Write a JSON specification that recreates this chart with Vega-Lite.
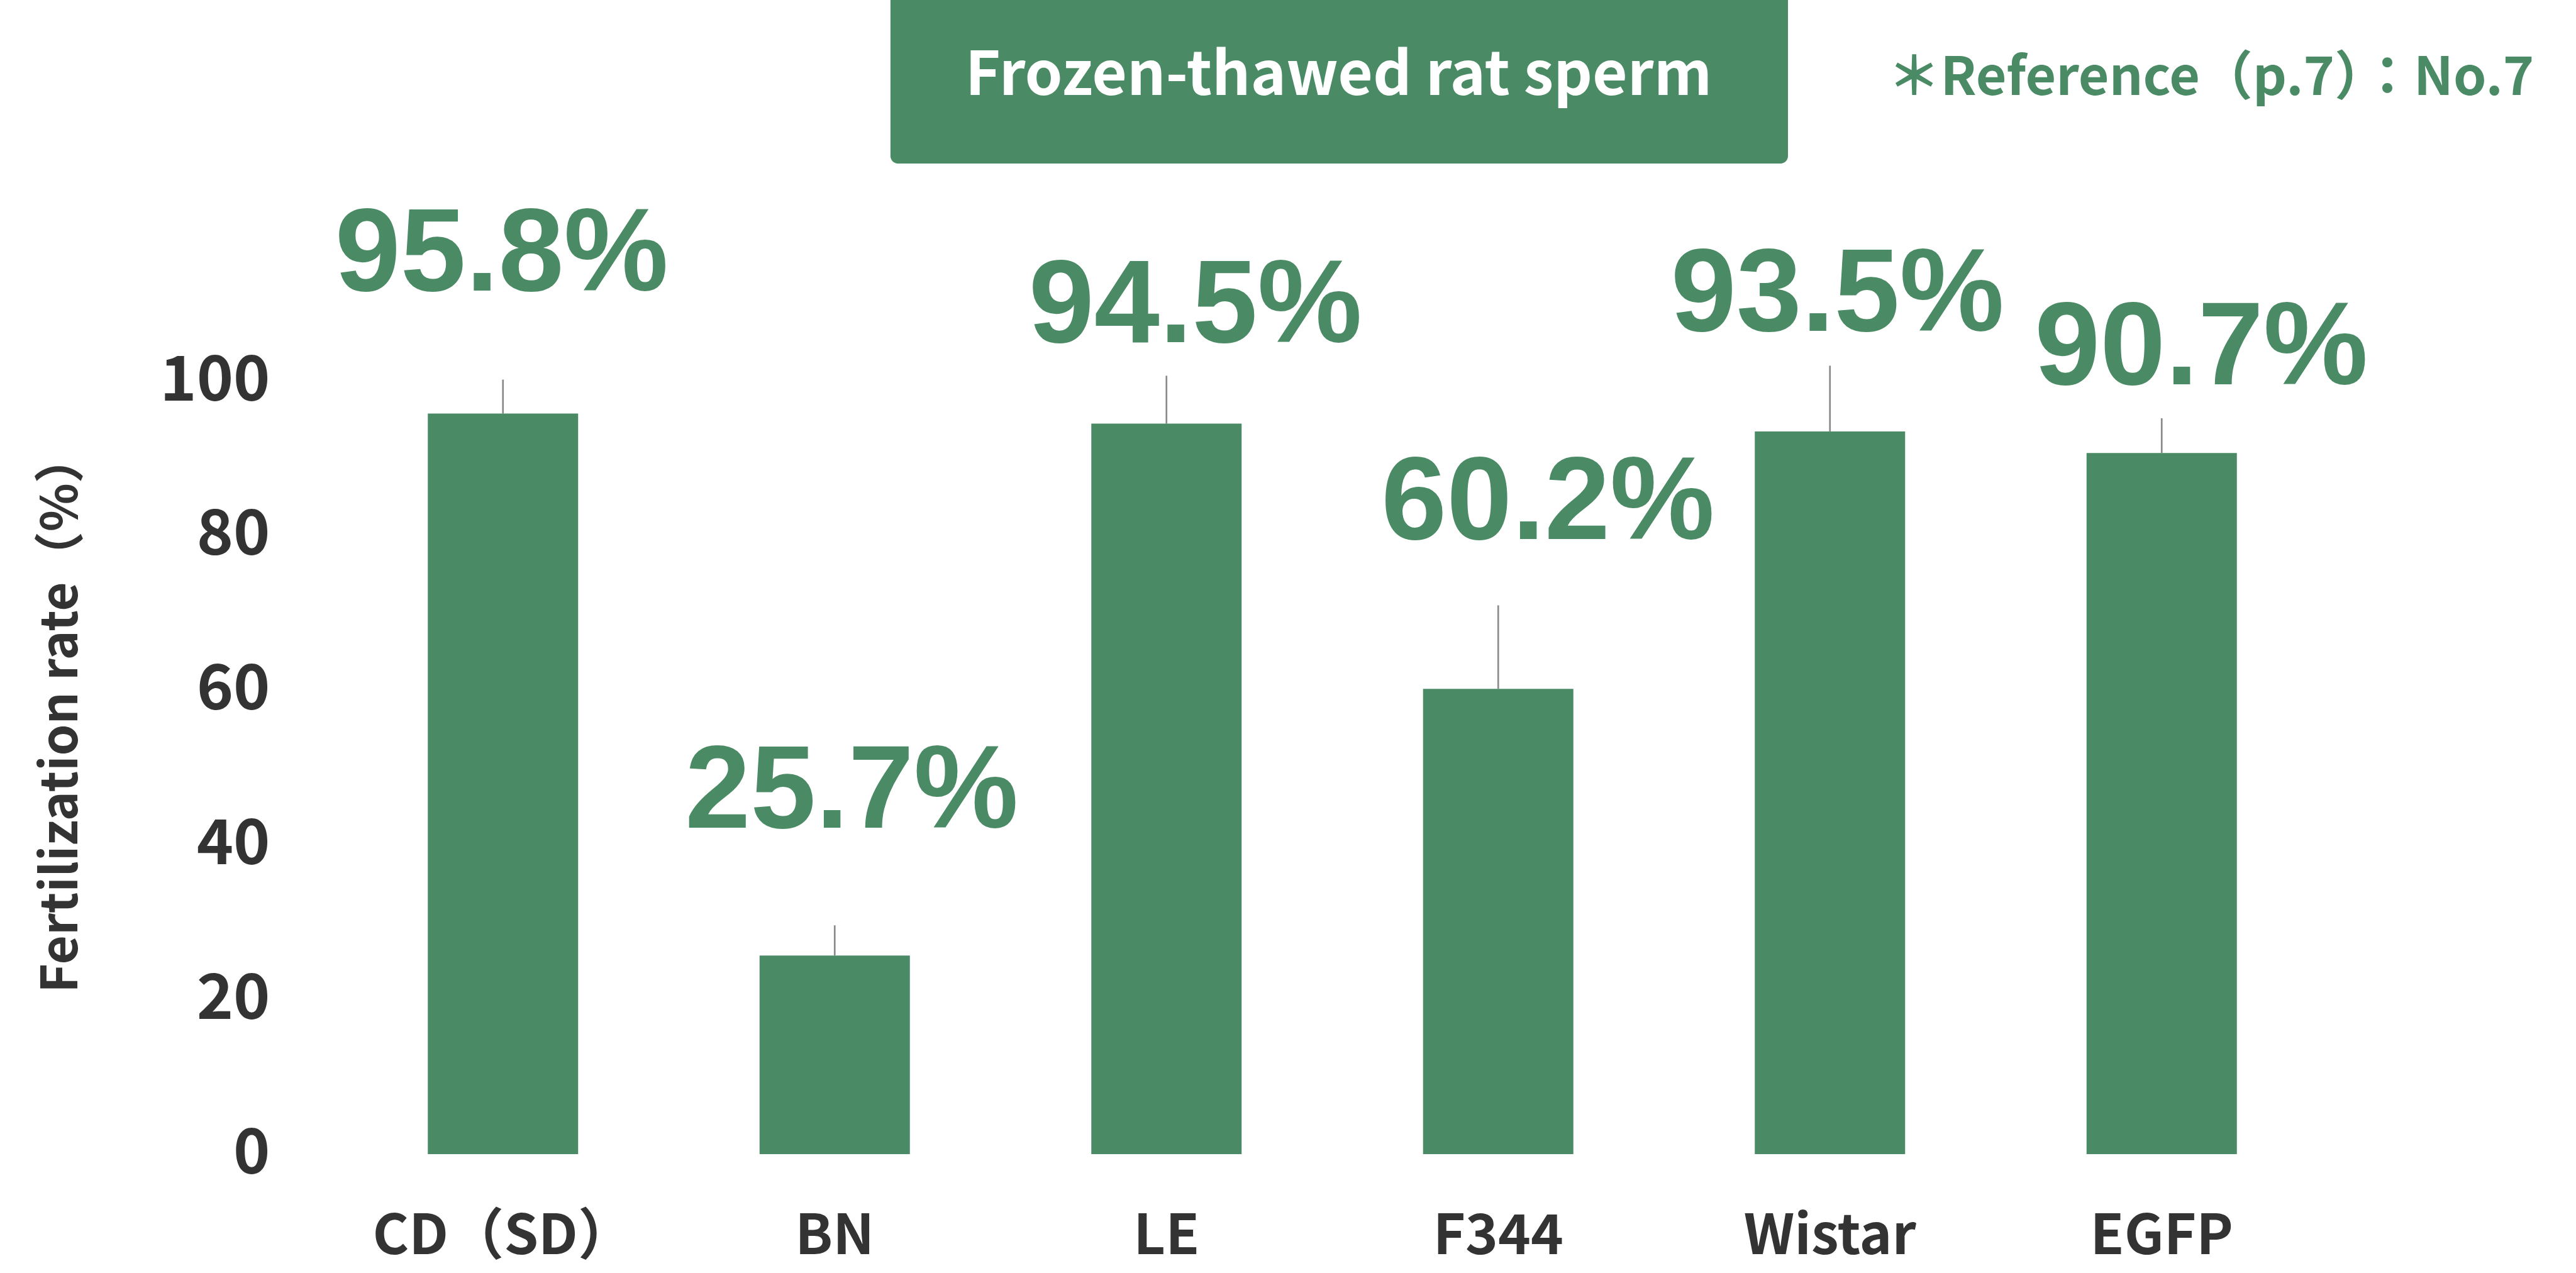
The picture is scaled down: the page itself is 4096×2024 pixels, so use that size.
{
  "$schema": "https://vega.github.io/schema/vega-lite/v6.json",
  "width": 3165,
  "height": 1229,
  "autosize": {"type": "none"},
  "padding": {"left": 536, "top": 606, "right": 395, "bottom": 189},
  "background": "white",
  "config": {"view": {"stroke": null}},
  "datasets": {
    "strains": [
      {"strain": "CD（SD）", "rate": 95.8, "upper": 100.2, "label": "95.8%"},
      {"strain": "BN", "rate": 25.7, "upper": 29.6, "label": "25.7%"},
      {"strain": "LE", "rate": 94.5, "upper": 100.7, "label": "94.5%"},
      {"strain": "F344", "rate": 60.2, "upper": 71.0, "label": "60.2%"},
      {"strain": "Wistar", "rate": 93.5, "upper": 102.0, "label": "93.5%"},
      {"strain": "EGFP", "rate": 90.7, "upper": 95.2, "label": "90.7%"}
    ],
    "banner": [
      {"title": "Frozen-thawed rat sperm", "note": "＊Reference（p.7）：No.7"}
    ]
  },
  "data": {"name": "strains"},
  "encoding": {
    "x": {
      "field": "strain",
      "type": "nominal",
      "scale": {"domain": ["CD（SD）", "BN", "LE", "F344", "Wistar", "EGFP"], "paddingInner": 0, "paddingOuter": 0},
      "axis": {
        "title": null,
        "labelAngle": 0,
        "labelLimit": 0,
        "labelFont": "Noto Sans CJK JP",
        "labelFontWeight": "bold",
        "labelFontSize": 88,
        "labelColor": "#333333",
        "labelBaseline": "alphabetic",
        "labelPadding": 158,
        "domain": false,
        "ticks": false,
        "grid": false
      }
    }
  },
  "layer": [
    {
      "mark": {"type": "rule", "color": "#8a8a8a", "strokeWidth": 2.7},
      "encoding": {
        "y": {
          "field": "rate",
          "type": "quantitative",
          "scale": {"domain": [0, 100], "nice": false, "zero": true},
          "axis": {
            "values": [0, 20, 40, 60, 80, 100],
            "labelFont": "Noto Sans CJK JP",
            "labelFontWeight": "bold",
            "labelFontSize": 99,
            "labelColor": "#333333",
            "labelPadding": 107,
            "domain": false,
            "ticks": false,
            "grid": false,
            "title": "Fertilization rate（%）",
            "titleFont": "Noto Sans CJK JP",
            "titleFontWeight": "bold",
            "titleFontSize": 80,
            "titleColor": "#333333",
            "titlePadding": 197,
            "titleY": 527
          }
        },
        "y2": {"field": "upper"}
      }
    },
    {
      "mark": {"type": "bar", "color": "#4A8B65", "width": 239, "clip": false},
      "encoding": {
        "y": {"field": "rate", "type": "quantitative"}
      }
    },
    {
      "transform": [{"filter": "datum.strain === 'CD（SD）'"}],
      "mark": {"type": "text", "font": "Liberation Sans", "fontWeight": "bold", "fontSize": 187, "color": "#4A8B65", "baseline": "alphabetic", "align": "center", "dx": -2, "dy": -142},
      "encoding": {"y": {"field": "upper", "type": "quantitative"}, "text": {"field": "label"}}
    },
    {
      "transform": [{"filter": "datum.strain === 'BN'"}],
      "mark": {"type": "text", "font": "Liberation Sans", "fontWeight": "bold", "fontSize": 187, "color": "#4A8B65", "baseline": "alphabetic", "align": "center", "dx": 27, "dy": -155},
      "encoding": {"y": {"field": "upper", "type": "quantitative"}, "text": {"field": "label"}}
    },
    {
      "transform": [{"filter": "datum.strain === 'LE'"}],
      "mark": {"type": "text", "font": "Liberation Sans", "fontWeight": "bold", "fontSize": 187, "color": "#4A8B65", "baseline": "alphabetic", "align": "center", "dx": 46, "dy": -53},
      "encoding": {"y": {"field": "upper", "type": "quantitative"}, "text": {"field": "label"}}
    },
    {
      "transform": [{"filter": "datum.strain === 'F344'"}],
      "mark": {"type": "text", "font": "Liberation Sans", "fontWeight": "bold", "fontSize": 187, "color": "#4A8B65", "baseline": "alphabetic", "align": "center", "dx": 79, "dy": -105},
      "encoding": {"y": {"field": "upper", "type": "quantitative"}, "text": {"field": "label"}}
    },
    {
      "transform": [{"filter": "datum.strain === 'Wistar'"}],
      "mark": {"type": "text", "font": "Liberation Sans", "fontWeight": "bold", "fontSize": 187, "color": "#4A8B65", "baseline": "alphabetic", "align": "center", "dx": 12, "dy": -55},
      "encoding": {"y": {"field": "upper", "type": "quantitative"}, "text": {"field": "label"}}
    },
    {
      "transform": [{"filter": "datum.strain === 'EGFP'"}],
      "mark": {"type": "text", "font": "Liberation Sans", "fontWeight": "bold", "fontSize": 187, "color": "#4A8B65", "baseline": "alphabetic", "align": "center", "dx": 63, "dy": -54},
      "encoding": {"y": {"field": "upper", "type": "quantitative"}, "text": {"field": "label"}}
    },
    {
      "data": {"name": "banner"},
      "mark": {"type": "rect", "color": "#4A8B65", "cornerRadius": 12, "clip": false},
      "encoding": {
        "x": {"datum": "BN", "bandPosition": 0.668},
        "x2": {"datum": "Wistar", "bandPosition": 0.3735},
        "y": {"datum": 152, "type": "quantitative"},
        "y2": {"datum": 128.15}
      }
    },
    {
      "data": {"name": "banner"},
      "mark": {"type": "text", "font": "Noto Sans CJK JP", "fontWeight": "bold", "fontSize": 96, "color": "white", "align": "center", "baseline": "alphabetic"},
      "encoding": {
        "x": {"datum": "F344", "bandPosition": 0.019},
        "y": {"datum": 137.0, "type": "quantitative"},
        "text": {"field": "title"}
      }
    },
    {
      "data": {"name": "banner"},
      "mark": {"type": "text", "font": "Noto Sans CJK JP", "fontWeight": "bold", "fontSize": 84, "color": "#4A8B65", "align": "left", "baseline": "alphabetic"},
      "encoding": {
        "x": {"datum": "Wistar", "bandPosition": 0.674},
        "y": {"datum": 137.0, "type": "quantitative"},
        "text": {"field": "note"}
      }
    }
  ]
}
